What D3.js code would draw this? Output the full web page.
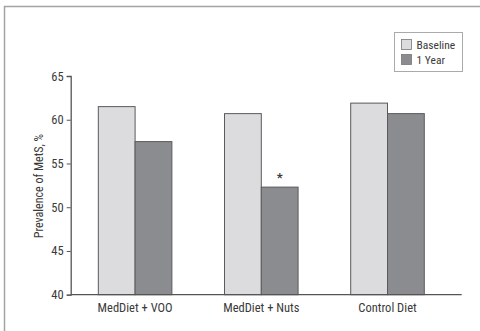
<!DOCTYPE html>
<html><head><meta charset="utf-8">
<script src="https://cdn.jsdelivr.net/npm/d3@7"></script>
<style>
html,body{margin:0;padding:0;background:#fff;}
svg{display:block;}
text{font-family:"Liberation Sans Narrow","Roboto Condensed","Arial Narrow","Liberation Sans",sans-serif;fill:#3a3a3a;}
</style></head><body>
<script>
const categories = ["MedDiet + VOO", "MedDiet + Nuts", "Control Diet"];
const seriesNames = ["Baseline", "1 Year"];
const baseline = [61.5, 60.7, 61.9];
const oneYear = [57.5, 52.3, 60.7];
const significant = [false, true, false];
const yTicks = [40, 45, 50, 55, 60, 65];
const colors = ["#dcdcdf", "#8b8c8f"];

const W = 480, H = 331;
const svg = d3.select("body").append("svg").attr("width", W).attr("height", H);

// outer frame
svg.append("rect").attr("x", 4.5).attr("y", 6.5).attr("width", 490).attr("height", 340)
  .attr("fill", "none").attr("stroke", "#a3a3a3").attr("stroke-width", 1.5);

const y = d3.scaleLinear().domain([40, 65]).range([294.7, 76]);
const x0 = d3.scaleBand().domain(categories).range([72, 450.6]).paddingInner(0.417).paddingOuter(0.2085);
const x1 = d3.scaleBand().domain(seriesNames).range([0, x0.bandwidth()]);

const data = categories.map((c, i) => ({cat: c, vals: [baseline[i], oneYear[i]], sig: significant[i]}));

const g = svg.selectAll("g.grp").data(data).join("g").attr("class", "grp")
  .attr("transform", d => `translate(${x0(d.cat)},0)`);
g.selectAll("rect").data(d => d.vals.map((v, j) => ({v, s: seriesNames[j], j})))
  .join("rect")
  .attr("x", d => x1(d.s)).attr("width", x1.bandwidth())
  .attr("y", d => y(d.v)).attr("height", d => y(40) - y(d.v))
  .attr("fill", d => colors[d.j]).attr("stroke", "#5a5a5a").attr("stroke-width", 1);
g.filter(d => d.sig).append("text")
  .attr("x", x1("1 Year") + x1.bandwidth() / 2)
  .attr("y", d => y(d.vals[1]) - 5)
  .attr("text-anchor", "middle").attr("font-size", 13).attr("font-weight", "bold").text("*");

// y axis
const yAxis = d3.axisLeft(y).tickValues(yTicks).tickSize(4).tickPadding(3);
const ya = svg.append("g").attr("transform", "translate(70.7,0)").call(yAxis);
ya.select(".domain").attr("stroke", "#555").attr("stroke-width", 1.3);
ya.selectAll(".tick line").attr("stroke", "#555");
ya.selectAll(".tick text").attr("font-size", 12.5).attr("fill", "#3a3a3a").style("font-family", null);

// x axis
svg.append("line").attr("x1", 70.7).attr("x2", 461.7).attr("y1", y(40)).attr("y2", y(40))
  .attr("stroke", "#555").attr("stroke-width", 1.3);
const xAxis = d3.axisBottom(x0).tickSize(0).tickPadding(8);
const xa = svg.append("g").attr("transform", `translate(0,${y(40)})`).call(xAxis);
xa.select(".domain").remove();
xa.selectAll(".tick text").attr("font-size", 12.5).attr("fill", "#3a3a3a").style("font-family", null);

// y label
svg.append("text").attr("transform", `translate(43,186) rotate(-90)`)
  .attr("text-anchor", "middle").attr("font-size", 12).text("Prevalence of MetS, %");

// legend
const lg = svg.append("g");
lg.append("rect").attr("x", 394.5).attr("y", 32.5).attr("width", 68).attr("height", 39)
  .attr("fill", "#fff").attr("stroke", "#aaa").attr("stroke-width", 1);
seriesNames.forEach((s, i) => {
  lg.append("rect").attr("x", 401.5).attr("y", 39.5 + i * 15).attr("width", 10).attr("height", 10)
    .attr("fill", colors[i]).attr("stroke", "#777").attr("stroke-width", 0.8);
  lg.append("text").attr("x", 416.5).attr("y", 48.5 + i * 15).attr("font-size", 11.5).text(s);
});
</script>
</body></html>
